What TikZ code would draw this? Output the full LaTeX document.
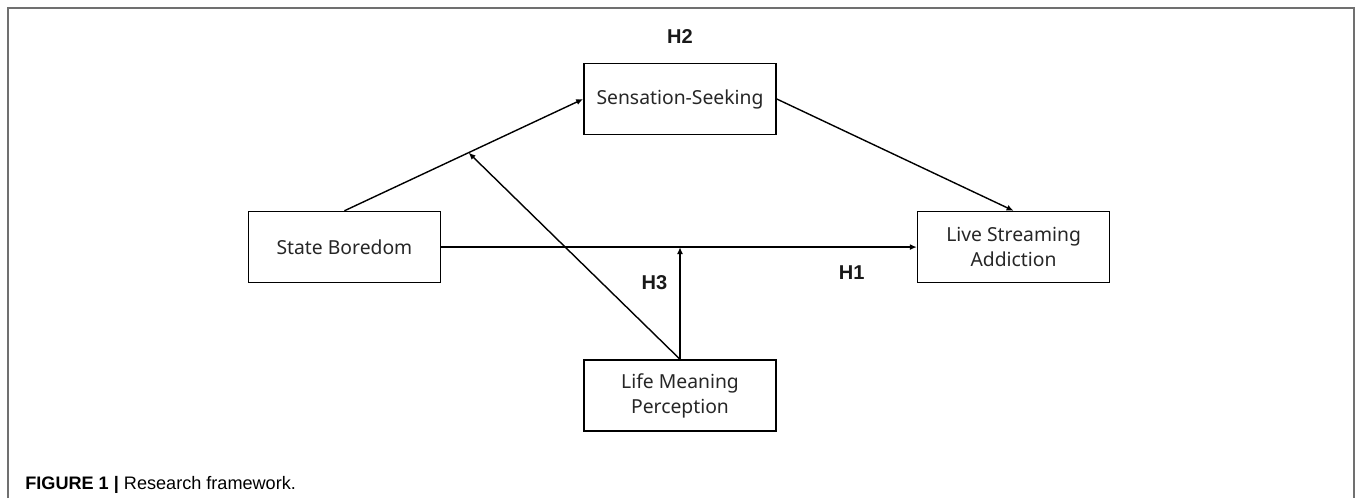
\documentclass[tikz,border=0pt]{standalone}
\usepackage{fontspec}
\setmainfont{Liberation Sans}
\newfontfamily\boxfont{Noto Sans}
\usepackage{xcolor}
\usetikzlibrary{positioning, arrows.meta}
\definecolor{framegray}{HTML}{707070}

\begin{document}
\begin{tikzpicture}[
    node distance=1.52cm and 2.84cm,
    every node/.style={inner sep=0pt},
    factor/.style={
        draw,
        line width=0.9pt,
        align=center,
        text=black!85,
        font=\boxfont\fontsize{11}{14.2}\selectfont,
        minimum width=3.84cm,
        minimum height=1.42cm
    },
    arrow/.style={-{Latex[length=1.4mm,width=1.2mm]}, line width=0.8pt},
    hyp/.style={font=\bfseries\fontsize{11.4}{13}\selectfont, text=black!90}
]
\useasboundingbox (0,0) rectangle (27.14,-9.96);
\draw[framegray, line width=1pt] (0.16,-9.96) -- (0.16,-0.16) -- (27.08,-0.16) -- (27.08,-9.96);

\node[factor] (seek) at (13.6,-1.98) {Sensation-Seeking};
\node[factor] (bore) [below left=1.51cm and 2.84cm of seek] {State Boredom};
\node[factor] (addict) [below right=1.51cm and 2.80cm of seek] {Live Streaming\\Addiction};
\node[factor] (meaning) [below=4.48cm of seek] {Life Meaning\\Perception};
\node[hyp] (h2) [above=0.37cm of seek] {H2};

\draw[arrow] (bore.north) -- coordinate[pos=0.52] (modA) (seek.west);
\draw[arrow] (seek.east) -- (addict.north);
\draw[arrow] (bore) -- node[hyp, pos=0.863, below=0.36cm] (h1) {H1} (addict);
\coordinate (modB) at (meaning.north |- bore.east);
\draw[arrow] (meaning.north) -- node[hyp, pos=0.68, left=0.24cm] (h3) {H3} (modB);
\draw[arrow] (meaning.north) -- (modA);

\node[anchor=base west, font=\fontsize{10.3}{12}\selectfont] (caption) at (0.5,-9.78)
    {\textbf{FIGURE 1 |} Research framework.};

\end{tikzpicture}
\end{document}
